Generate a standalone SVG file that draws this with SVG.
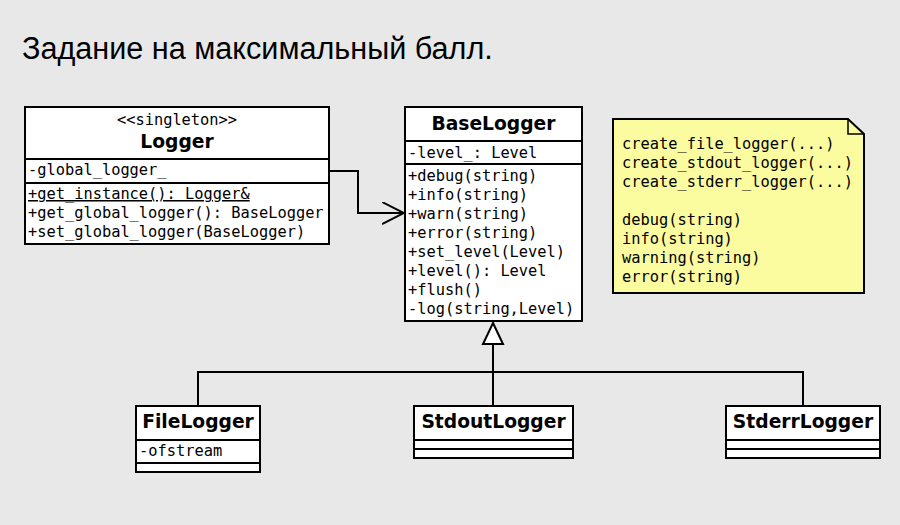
<svg xmlns="http://www.w3.org/2000/svg" width="900" height="525" viewBox="0 0 900 525">
<style>
.bg{fill:#e8e8e8}
.box{fill:#ffffff;stroke:#000;stroke-width:2}
.sep{stroke:#000;stroke-width:2}
.note{fill:#fbfba0;stroke:#000;stroke-width:2}
.m{font-family:"DejaVu Sans Mono",monospace;font-size:15.35px;fill:#000}
.n{font-family:"DejaVu Sans",sans-serif;font-weight:bold;font-size:18.7px;fill:#000;text-anchor:middle}
.c{fill:none;stroke:#000;stroke-width:2}
.title{font-family:"Liberation Sans",Arial,sans-serif;font-size:30.6px;fill:#000}
</style>
<defs>
<marker id="open" markerWidth="24" markerHeight="24" refX="22" refY="11" orient="auto" markerUnits="userSpaceOnUse">
<path d="M0,0 L22,11 L0,22" fill="none" stroke="#000" stroke-width="2"/>
</marker>
</defs>
<rect class="bg" x="0" y="0" width="900" height="525"/>
<text class="title" x="22" y="59">Задание на максимальный балл.</text>

<g id="connectors">
<path class="c" d="M329,171 H358 V213 H404" marker-end="url(#open)"/>
<path class="c" d="M493,344 V372"/>
<path class="c" d="M198,405 V372 H803 V405"/>
<path class="c" d="M493,372 V405"/>
<polygon points="493,323 503,344 483,344" fill="#fff" stroke="#000" stroke-width="2"/>
</g>

<g id="Logger">
<rect class="box" x="25" y="107" width="304" height="137"/>
<line class="sep" x1="25" y1="159" x2="329" y2="159"/>
<line class="sep" x1="25" y1="183" x2="329" y2="183"/>
<text class="m" x="177" y="125" text-anchor="middle">&lt;&lt;singleton&gt;&gt;</text>
<text class="n" x="177" y="148">Logger</text>
<text class="m" x="28" y="175">-global_logger_</text>
<text class="m" x="28" y="199" text-decoration="underline">+get_instance(): Logger&amp;</text>
<text class="m" x="28" y="218">+get_global_logger(): BaseLogger</text>
<text class="m" x="28" y="237">+set_global_logger(BaseLogger)</text>
</g>

<g id="BaseLogger">
<rect class="box" x="405" y="107" width="177" height="214"/>
<line class="sep" x1="405" y1="141" x2="582" y2="141"/>
<line class="sep" x1="405" y1="164" x2="582" y2="164"/>
<text class="n" x="493.5" y="130">BaseLogger</text>
<text class="m" x="408" y="158">-level_: Level</text>
<text class="m" x="408" y="181">+debug(string)</text>
<text class="m" x="408" y="200">+info(string)</text>
<text class="m" x="408" y="219">+warn(string)</text>
<text class="m" x="408" y="238">+error(string)</text>
<text class="m" x="408" y="257">+set_level(Level)</text>
<text class="m" x="408" y="276">+level(): Level</text>
<text class="m" x="408" y="295">+flush()</text>
<text class="m" x="408" y="314">-log(string,Level)</text>
</g>

<g id="Note">
<path class="note" d="M613,119 H848 L864,134 V293 H613 Z"/>
<path d="M848,119 V134 H864" fill="none" stroke="#000" stroke-width="1.5"/>
<text class="m" x="622" y="149">create_file_logger(...)</text>
<text class="m" x="622" y="168">create_stdout_logger(...)</text>
<text class="m" x="622" y="187">create_stderr_logger(...)</text>
<text class="m" x="622" y="225">debug(string)</text>
<text class="m" x="622" y="244">info(string)</text>
<text class="m" x="622" y="263">warning(string)</text>
<text class="m" x="622" y="282">error(string)</text>
</g>

<g id="FileLogger">
<rect class="box" x="136" y="406" width="124" height="66"/>
<line class="sep" x1="136" y1="440" x2="260" y2="440"/>
<line class="sep" x1="136" y1="463" x2="260" y2="463"/>
<text class="n" x="198" y="428">FileLogger</text>
<text class="m" x="139" y="456">-ofstream</text>
</g>

<g id="StdoutLogger">
<rect class="box" x="414" y="406" width="159" height="52"/>
<line class="sep" x1="414" y1="440" x2="573" y2="440"/>
<line class="sep" x1="414" y1="449" x2="573" y2="449"/>
<text class="n" x="493.5" y="428">StdoutLogger</text>
</g>

<g id="StderrLogger">
<rect class="box" x="726" y="406" width="154" height="52"/>
<line class="sep" x1="726" y1="440" x2="880" y2="440"/>
<line class="sep" x1="726" y1="449" x2="880" y2="449"/>
<text class="n" x="803" y="428">StderrLogger</text>
</g>
</svg>
